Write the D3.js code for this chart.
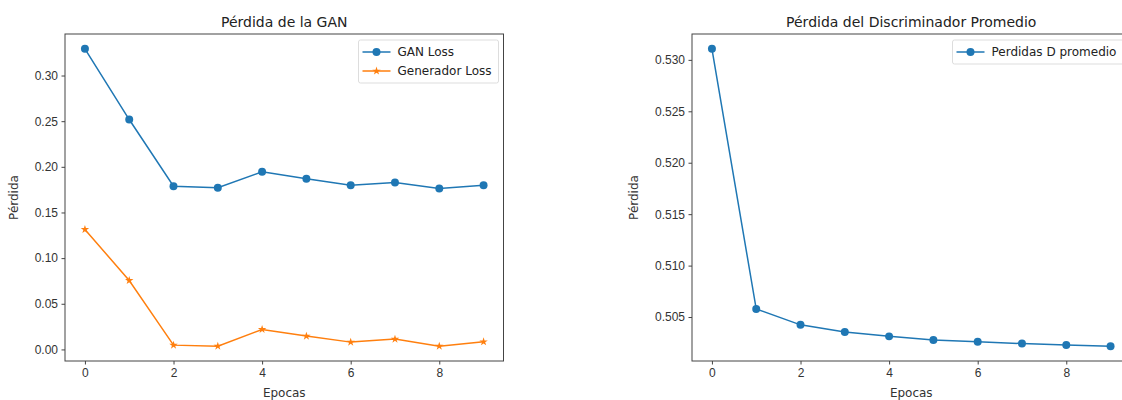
<!DOCTYPE html>
<html>
<head>
<meta charset="utf-8">
<script src="https://cdn.jsdelivr.net/npm/d3@7"></script>
<style>
  body { margin: 0; background: #fff; }
  svg { display: block; font-family: "DejaVu Sans", sans-serif; }
  .axis path, .axis line { stroke: #444; }
  .axis text { fill: #333; font-size: 12px; }
  .title { font-size: 14px; fill: #222; }
  .axis-label { font-size: 12px; fill: #333; }
  .legend text { font-size: 12px; fill: #222; }
</style>
</head>
<body>
<div id="chart"></div>
<script>
/* global d3 */
'use strict';

// values
const epochs = [0, 1, 2, 3, 4, 5, 6, 7, 8, 9];
const ganLoss = [0.3292, 0.2518, 0.1788, 0.1770, 0.1945, 0.1869, 0.1799, 0.1828, 0.1763, 0.1799];
const genLoss = [0.1314, 0.0755, 0.0047, 0.0036, 0.0219, 0.0146, 0.0080, 0.0113, 0.0036, 0.0084];
const discLoss = [0.53107, 0.50578, 0.50424, 0.50354, 0.50312, 0.50276, 0.50259, 0.50242, 0.50227, 0.50217];

const xTicks = [0, 2, 4, 6, 8];
const ganTicks = [0.00, 0.05, 0.10, 0.15, 0.20, 0.25, 0.30];
const discTicks = [0.505, 0.510, 0.515, 0.520, 0.525, 0.530];

const blue = "#1f77b4";
const orange = "#ff7f0e";

const svg = d3.select("#chart").append("svg")
  .attr("width", 1122)
  .attr("height", 400);

// matplotlib style 5% margin on both axes
function padded(values) {
  const ext = d3.extent(values);
  const pad = (ext[1] - ext[0]) * 0.05;
  return [ext[0] - pad, ext[1] + pad];
}

function drawPanel(cfg) {
  const x = d3.scaleLinear().domain(padded(epochs)).range([cfg.left, cfg.right]);
  const allY = cfg.series.reduce((acc, s) => acc.concat(s.values), []);
  const y = d3.scaleLinear().domain(padded(allY)).range([cfg.bottom, cfg.top]);

  const g = svg.append("g");

  // series
  cfg.series.forEach(s => {
    const pts = epochs.map((e, i) => ({ x: e, y: s.values[i] }));
    g.append("path")
      .datum(pts)
      .attr("fill", "none")
      .attr("stroke", s.color)
      .attr("stroke-width", 1.5)
      .attr("d", d3.line().x(d => x(d.x)).y(d => y(d.y)));

    const sym = d3.symbol().type(s.marker).size(s.markerSize);
    g.selectAll(null)
      .data(pts)
      .enter().append("path")
      .attr("transform", d => "translate(" + x(d.x) + "," + y(d.y) + ")")
      .attr("d", sym)
      .attr("fill", s.color);
  });

  // frame
  g.append("rect")
    .attr("x", cfg.left)
    .attr("y", cfg.top)
    .attr("width", cfg.right - cfg.left)
    .attr("height", cfg.bottom - cfg.top)
    .attr("fill", "none")
    .attr("stroke", "#444")
    .attr("stroke-width", 1);

  g.append("g")
    .attr("class", "axis")
    .attr("transform", "translate(0," + cfg.bottom + ")")
    .call(d3.axisBottom(x).tickValues(xTicks).tickSize(3.5).tickPadding(4).tickFormat(d3.format("d")))
    .call(a => a.select(".domain").remove());

  g.append("g")
    .attr("class", "axis")
    .attr("transform", "translate(" + cfg.left + ",0)")
    .call(d3.axisLeft(y).tickValues(cfg.yTicks).tickSize(3.5).tickPadding(3.5).tickFormat(d3.format(cfg.yFormat)))
    .call(a => a.select(".domain").remove());

  const cx = (cfg.left + cfg.right) / 2;
  g.append("text")
    .attr("class", "title")
    .attr("text-anchor", "middle")
    .attr("x", cx)
    .attr("y", 27)
    .text(cfg.title);

  g.append("text")
    .attr("class", "axis-label")
    .attr("text-anchor", "middle")
    .attr("x", cx)
    .attr("y", 397)
    .text("Epocas");

  g.append("text")
    .attr("class", "axis-label")
    .attr("text-anchor", "middle")
    .attr("transform", "translate(" + cfg.ylabelX + "," + ((cfg.top + cfg.bottom) / 2) + ") rotate(-90)")
    .text("Pérdida");

  // legend, upper right
  const rowH = 19;
  const lg = g.append("g").attr("class", "legend");
  const boxRight = cfg.right - 5;
  const boxLeft = boxRight - cfg.legendWidth;
  const boxTop = cfg.top + 6;
  lg.append("rect")
    .attr("x", boxLeft)
    .attr("y", boxTop)
    .attr("width", cfg.legendWidth)
    .attr("height", cfg.series.length * rowH + 5)
    .attr("rx", 2)
    .attr("fill", "#fff")
    .attr("fill-opacity", 0.8)
    .attr("stroke", "#ddd");

  cfg.series.forEach((s, i) => {
    const yy = boxTop + 12 + i * rowH;
    lg.append("line")
      .attr("x1", boxLeft + 4).attr("x2", boxLeft + 32)
      .attr("y1", yy).attr("y2", yy)
      .attr("stroke", s.color)
      .attr("stroke-width", 1.5);
    lg.append("path")
      .attr("transform", "translate(" + (boxLeft + 18) + "," + yy + ")")
      .attr("d", d3.symbol().type(s.marker).size(s.markerSize))
      .attr("fill", s.color);
    lg.append("text")
      .attr("x", boxLeft + 39)
      .attr("y", yy)
      .attr("dy", "0.35em")
      .text(s.name);
  });
}

drawPanel({
  left: 65, right: 503.5, top: 34, bottom: 361,
  title: "Pérdida de la GAN",
  yTicks: ganTicks, yFormat: ".2f",
  ylabelX: 18,
  legendWidth: 140,
  series: [
    { name: "GAN Loss", values: ganLoss, color: blue, marker: d3.symbolCircle, markerSize: 50 },
    { name: "Generador Loss", values: genLoss, color: orange, marker: d3.symbolStar, markerSize: 22 }
  ]
});

drawPanel({
  left: 692, right: 1130.5, top: 34, bottom: 361,
  title: "Pérdida del Discriminador Promedio",
  yTicks: discTicks, yFormat: ".3f",
  ylabelX: 638,
  legendWidth: 173,
  series: [
    { name: "Perdidas D promedio", values: discLoss, color: blue, marker: d3.symbolCircle, markerSize: 50 }
  ]
});
</script>
</body>
</html>
